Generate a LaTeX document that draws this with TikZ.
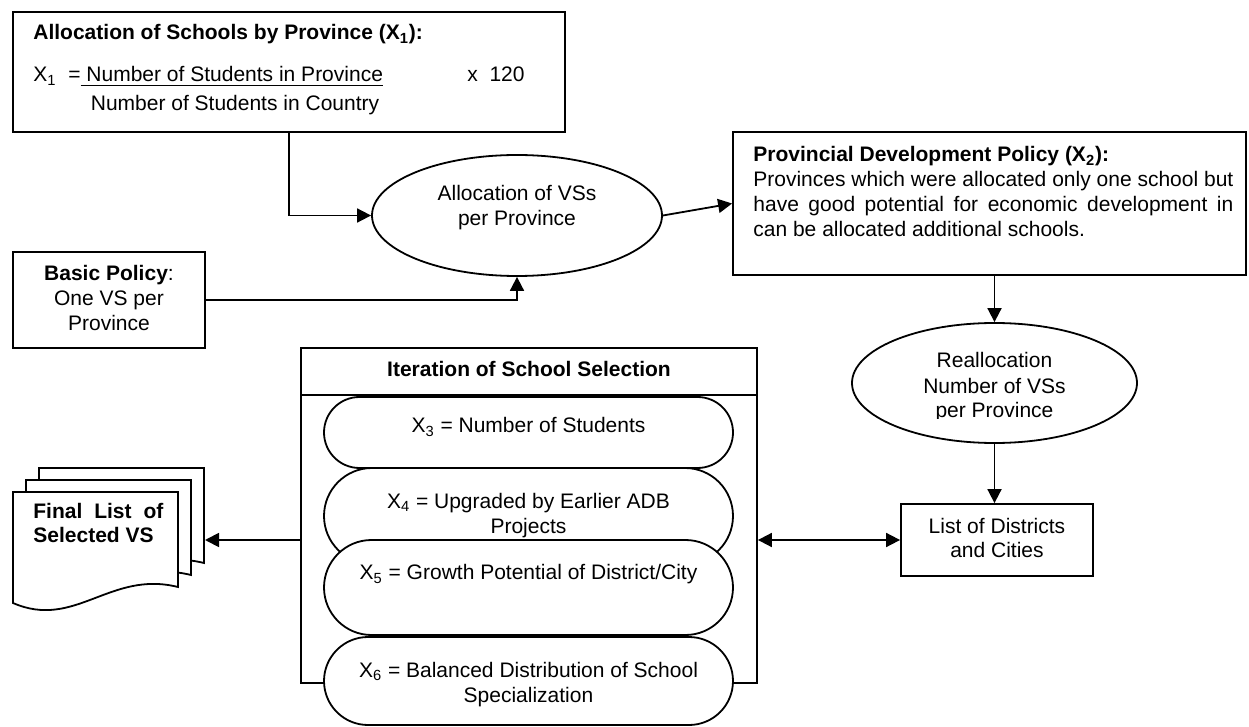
\documentclass[tikz,border=0pt]{standalone}
\usepackage{fontspec}
\setmainfont{Liberation Sans}
\usetikzlibrary{arrows.meta,shapes.geometric,shapes.misc}

\begin{document}
\begin{tikzpicture}[x=0.5pt,y=-0.5pt,
  box/.style={draw, line width=0.9pt, fill=white, rectangle, inner sep=0pt},
  frame/.style={draw, line width=0.9pt, rectangle, inner sep=0pt},
  oval/.style={draw, line width=0.9pt, fill=white, ellipse, inner sep=0pt},
  pill/.style={draw, line width=0.9pt, fill=white, rounded rectangle, inner sep=0pt, minimum width=204.5pt},
  txt/.style={inner sep=0pt, font=\fontsize{10.5}{12.5}\selectfont},
  txtb/.style={inner sep=0pt, font=\fontsize{10.5}{12.5}\selectfont\bfseries},
  arr/.style={line width=0.9pt, -{Triangle[length=7pt,width=7pt]}},
  darr/.style={line width=0.9pt, {Triangle[length=7pt,width=7pt]}-{Triangle[length=7pt,width=7pt]}},
  page/.style={draw, line width=0.9pt, fill=white, line join=miter}
]
\useasboundingbox (0,0) rectangle (1249,727);

% --- allocation formula box
\node[box, minimum width=276pt, minimum height=60pt] (box1) at (289,72) {};
\node[txt, anchor=base west] (t1) at (33,40) {\textbf{Allocation of Schools by Province (X\textsubscript{1}):}};
\node[txt, anchor=base west] (t1x) at (33,82) {X\textsubscript{1}};
\node[txt, anchor=base west] (t1num) at (68,82) {=\underline{\ Number of Students in Province}};
\node[txt, anchor=base] (t1den) at (235,111) {Number of Students in Country};
\node[txt, anchor=base west] (t1k) at (467,82) {x\ \ 120};

% --- basic policy box (multi-line labels are anchored on their last baseline)
\node[box, minimum width=96pt, minimum height=48pt] (basic) at (109,300) {};
\node[txt, align=center, anchor=base] (basictxt) at (109,331) {\textbf{Basic Policy}:\\One VS per\\Province};

% --- allocation per province
\node[oval, minimum width=145pt, minimum height=60.5pt] (ell1) at (517,215.5) {};
\node[txt, align=center, anchor=base] (ell1txt) at (517,226) {Allocation of VSs\\per Province};

% --- provincial development policy box
\node[box, minimum width=256.5pt, minimum height=71.5pt] (x2) at (989.5,203.5) {};
\node[txt, align=left, anchor=base west] (x2txt) at (753,237)
  {\textbf{Provincial Development Policy (X\textsubscript{2}):}\\
   \makebox[240pt][s]{Provinces which were allocated only one school but}\\
   \makebox[240pt][s]{have good potential for economic development in}\\
   can be allocated additional schools.};

% --- reallocation
\node[oval, minimum width=142.5pt, minimum height=60pt] (ell2) at (994.5,383) {};
\begin{scope}
  \clip (850,330) rectangle (1140,419);
  \node[txt, align=center, anchor=base] (ell2txt) at (994.5,418) {Reallocation\\Number of VSs\\per Province};
\end{scope}

% --- districts list
\node[box, minimum width=96pt, minimum height=36pt] (list) at (997,540) {};
\node[txt, align=center, anchor=base] (listtxt) at (997,558) {List of Districts\\and Cities};

% --- iteration frame with criteria
\node[frame, minimum width=228pt, minimum height=167.5pt] (iter) at (529,515.5) {};
\coordinate (sep) at (0,395);
\draw[line width=0.9pt] (iter.west |- sep) -- (iter.east |- sep);
\node[txtb, anchor=base] (itertxt) at (529,377) {Iteration of School Selection};

\node[pill, minimum height=35.5pt] (c3) at (528.5,432.5) {};
\node[txt, anchor=base] (c3txt) at (528.5,433) {X\textsubscript{3} = Number of Students};
\node[pill, minimum height=48pt] (c4) at (528.5,516) {};
\node[txt, align=center, anchor=base] (c4txt) at (528.5,533) {X\textsubscript{4} = Upgraded by Earlier ADB\\Projects};
\node[pill, minimum height=47.5pt] (c5) at (528.5,587.5) {};
\node[txt, anchor=base] (c5txt) at (528.5,580) {X\textsubscript{5} = Growth Potential of District/City};
\node[pill, minimum height=44pt] (c6) at (528.5,681) {};
\node[txt, align=center, anchor=base] (c6txt) at (528.5,702) {X\textsubscript{6} = Balanced Distribution of School\\Specialization};

% --- stacked output documents
\foreach \dx/\dy in {26/-24, 13/-12, 0/0}{
  \draw[page, shift={(\dx,\dy)}] (13,603) -- (13,492) -- (178,492) -- (178,587)
    .. controls (110,570) and (75,630) .. cycle;
}
\coordinate (docR) at (205,540);
\node[txtb, align=left, anchor=base west] (doctxt) at (33,543) {\makebox[65pt][s]{Final List of}\\Selected VS};

% --- connectors
\draw[arr] (box1.south) |- (ell1.west);
\draw[arr] (basic.east) -| (ell1.south);
\draw[arr] (ell1.east) -- (x2.west);
\draw[arr] (ell2.north |- x2.south) -- (ell2.north);
\draw[arr] (ell2.south) -- (ell2.south |- list.north);
\draw[arr] (iter.west |- list.west) -- (docR);
\draw[darr] (iter.east |- list.west) -- (list.west);
\end{tikzpicture}
\end{document}
